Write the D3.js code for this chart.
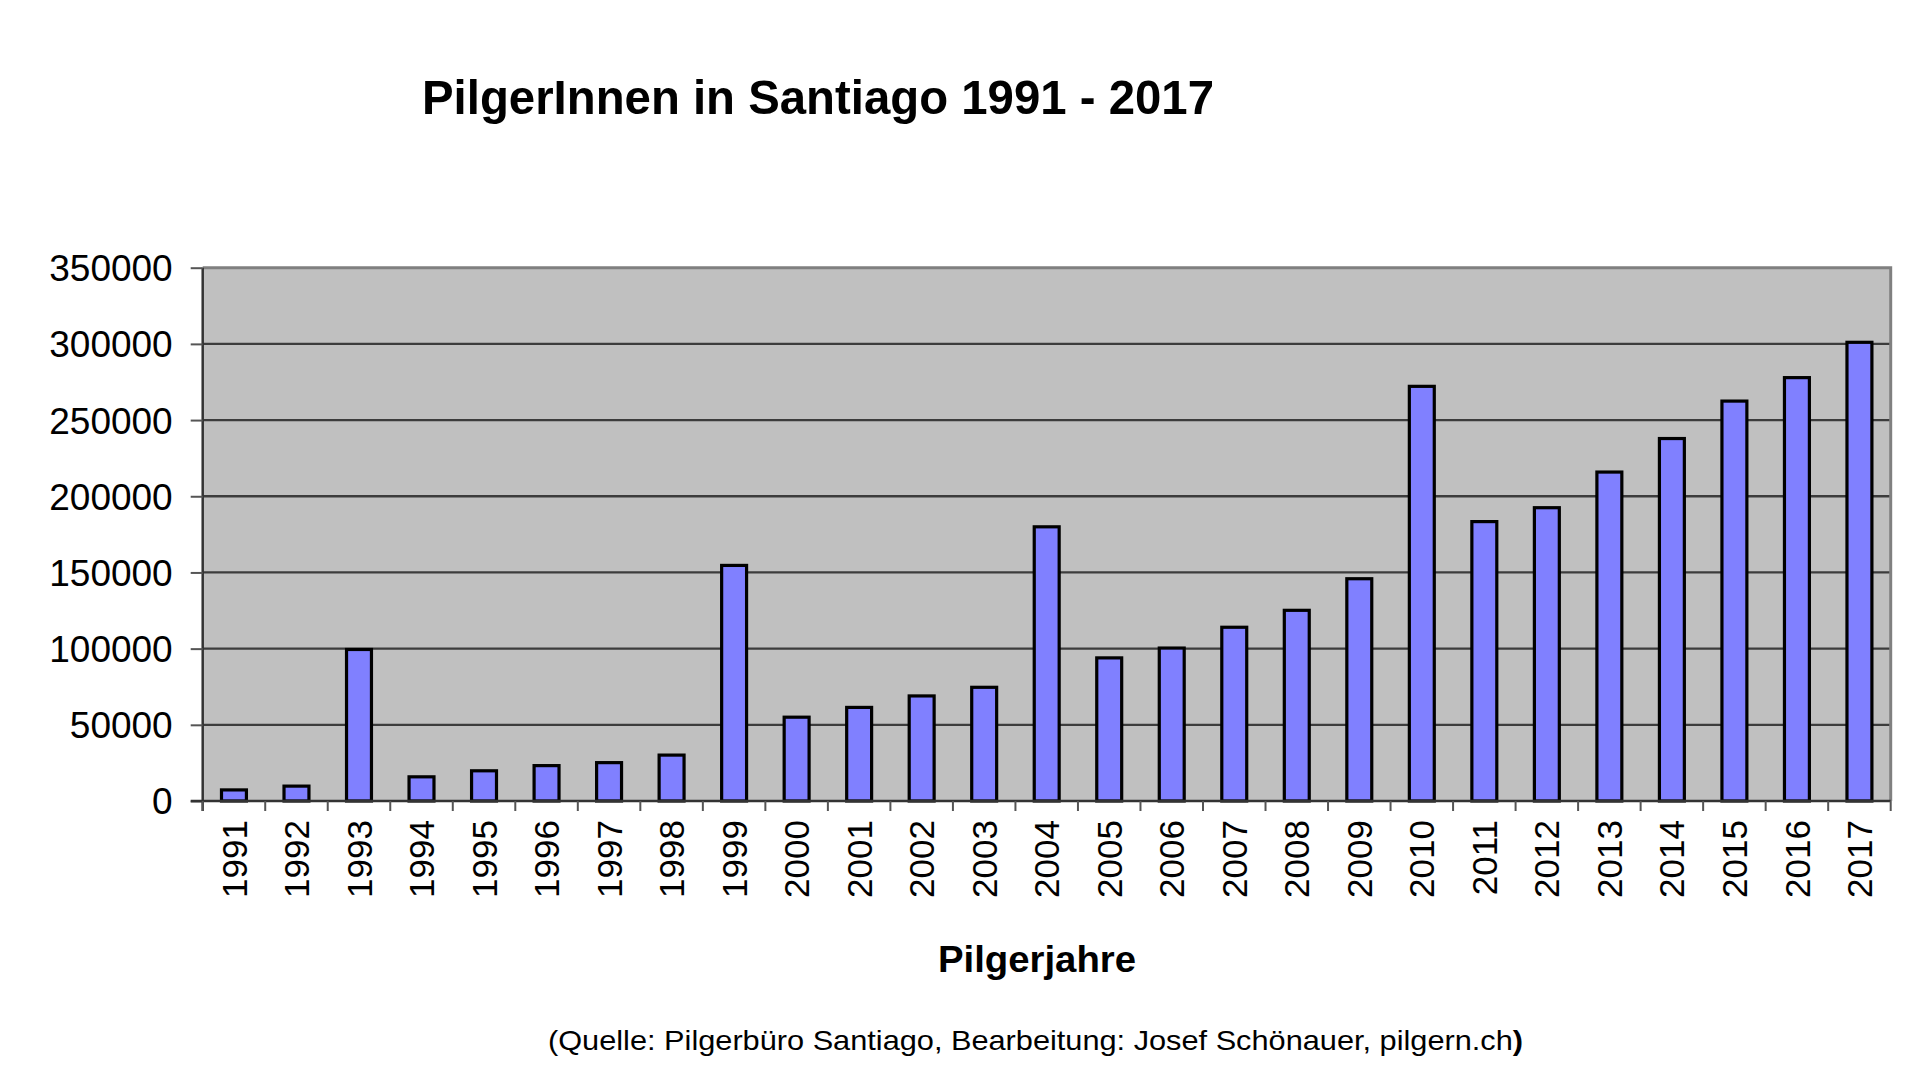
<!DOCTYPE html>
<html>
<head>
<meta charset="utf-8">
<script src="https://cdn.jsdelivr.net/npm/d3@7"></script>
<style>
  html, body { margin: 0; padding: 0; background: #fff; }
  svg { display: block; font-family: Arial, "Liberation Sans", sans-serif; }
</style>
</head>
<body>
<svg id="chart" width="1920" height="1080"></svg>
<script>
const years = ["1991","1992","1993","1994","1995","1996","1997","1998","1999","2000","2001","2002","2003","2004","2005","2006","2007","2008","2009","2010","2011","2012","2013","2014","2015","2016","2017"];
const pilgrims = [7274, 9764, 99436, 15863, 19821, 23218, 25179, 30126, 154613, 55004, 61418, 68952, 74614, 179944, 93924, 100377, 114026, 125141, 145877, 272135, 183366, 192488, 215880, 237886, 262458, 277854, 301036];
const yTicks = [0, 50000, 100000, 150000, 200000, 250000, 300000, 350000];
const titleText = "PilgerInnen in Santiago 1991 - 2017";
const xTitleText = "Pilgerjahre";
const sourceText = "(Quelle: Pilgerbüro Santiago, Bearbeitung: Josef Schönauer, pilgern.ch";
const sourceClose = ")";

const svg = d3.select("#chart");
const pLeft = 202.7, pRight = 1890.7, pTop = 267.7, pBottom = 801;

const x = d3.scaleBand().domain(years).range([pLeft, pRight]).paddingInner(0.55).paddingOuter(0.275);
const step = (pRight - pLeft) / years.length;
const y = d3.scaleLinear().domain([0, 350000]).range([pBottom, pTop]);

// plot background
svg.append("rect").attr("x", pLeft).attr("y", pTop).attr("width", pRight - pLeft).attr("height", pBottom - pTop)
  .attr("fill", "#c0c0c0");

// gridlines
svg.append("g").selectAll("line").data(yTicks.filter(t => t > 0 && t < 350000)).join("line")
  .attr("x1", pLeft).attr("x2", pRight).attr("y1", d => y(d)).attr("y2", d => y(d))
  .attr("stroke", "#3c3c3c").attr("stroke-width", 2.3);

// top and right border
svg.append("path")
  .attr("d", `M${pLeft},${pTop}H${pRight}V${pBottom}`)
  .attr("fill", "none").attr("stroke", "#808080").attr("stroke-width", 3);

// bars
const sw = 3.2;
svg.append("g").selectAll("rect").data(pilgrims).join("rect")
  .attr("x", (d, i) => x(years[i]) + sw / 2)
  .attr("width", x.bandwidth() - sw)
  .attr("y", d => y(d))
  .attr("height", d => y(0) - y(d))
  .attr("fill", "#8080ff").attr("stroke", "#000").attr("stroke-width", sw);

// y axis
const yAxis = d3.axisLeft(y).tickValues(yTicks).tickSize(12).tickPadding(18).tickFormat(d3.format("d"));
const gy = svg.append("g").attr("transform", `translate(${pLeft},0)`).call(yAxis);
gy.select(".domain").attr("stroke", "#333").attr("stroke-width", 2.5).attr("d", `M0,${pTop}V${pBottom + 10}`);
gy.selectAll(".tick line").attr("stroke", "#555").attr("stroke-width", 2);
gy.selectAll(".tick text").attr("font-size", 37).attr("fill", "#000")
  .attr("font-family", "Arial, 'Liberation Sans', sans-serif").attr("x", -30).attr("dy", "0.35em");

// x axis
const xAxis = d3.axisBottom(x).tickSize(0).tickPadding(0);
const gx = svg.append("g").attr("transform", `translate(0,${pBottom})`).call(xAxis);
gx.select(".domain").attr("stroke", "#333").attr("stroke-width", 2.5).attr("d", `M${pLeft - 12},0H${pRight}`);
gx.selectAll(".tick text")
  .attr("font-size", 35).attr("fill", "#000")
  .attr("font-family", "Arial, 'Liberation Sans', sans-serif")
  .attr("text-anchor", "end")
  .attr("transform", "rotate(-90)")
  .attr("x", -19).attr("y", 0).attr("dy", "0.36em");

// category boundary ticks
svg.append("g").selectAll("line").data(d3.range(years.length + 1)).join("line")
  .attr("x1", i => pLeft + i * step).attr("x2", i => pLeft + i * step)
  .attr("y1", pBottom).attr("y2", pBottom + 10)
  .attr("stroke", "#555").attr("stroke-width", 2);

// titles
svg.append("text").attr("x", 422).attr("y", 113.5)
  .attr("font-size", 49).attr("font-weight", "bold").attr("fill", "#000")
  .attr("textLength", 792).attr("lengthAdjust", "spacingAndGlyphs")
  .text(titleText);

svg.append("text").attr("x", 938).attr("y", 972)
  .attr("font-size", 36).attr("font-weight", "bold").attr("fill", "#000")
  .attr("textLength", 198).attr("lengthAdjust", "spacingAndGlyphs")
  .text(xTitleText);

const src = svg.append("text").attr("x", 548).attr("y", 1050)
  .attr("font-size", 28.5).attr("fill", "#000")
  .attr("textLength", 975).attr("lengthAdjust", "spacingAndGlyphs");
src.append("tspan").text(sourceText);
src.append("tspan").attr("font-weight", "bold").text(sourceClose);
</script>
</body>
</html>
